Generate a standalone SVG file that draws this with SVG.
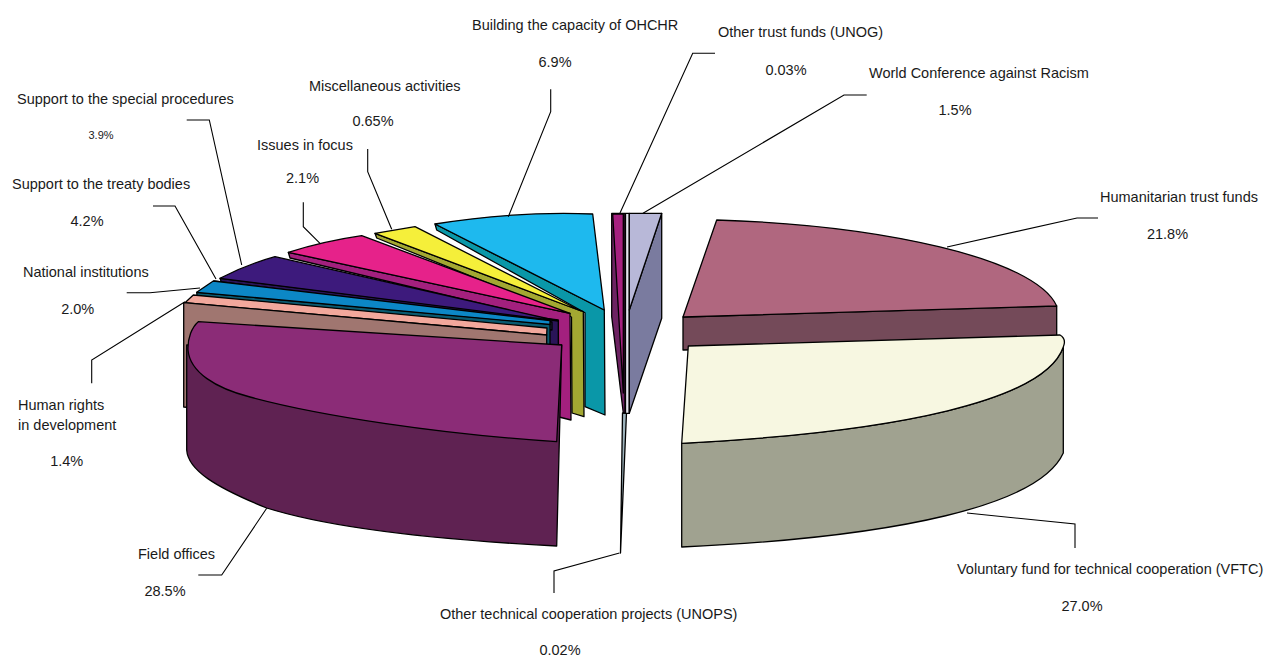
<svg xmlns="http://www.w3.org/2000/svg" width="1270" height="657" viewBox="0 0 1270 657">
<style>
.s{stroke:#000;stroke-width:1.3;stroke-linejoin:round}
.t{font-family:"Liberation Sans",Arial,sans-serif;font-size:14.5px;fill:#1a1a1a}
.m{text-anchor:middle}
.c{fill:none;stroke:#000;stroke-width:1.1}
</style>
<rect width="1270" height="657" fill="#fff"/>

<!-- Left group: slices drawn back to front -->
<g id="slice-building">
<path class="s" fill="#0A97A8" d="M435,224 L604.3,310 L605,415 L585,406.7 L585,312.7 L436.7,230 Z"/>
<path class="s" fill="#1EB9EE" d="M435,224 Q515,211 592.7,214 L604.3,310 Z"/>
</g>
<g id="slice-misc">
<path class="s" fill="#A3A832" d="M375,233.3 L583.3,311.7 L584,416.7 L572,413 L571.5,317 L376.7,238 Z"/>
<path class="s" fill="#F5EF3A" d="M375,233.3 L415,226.7 L581,311 Z"/>
</g>
<g id="slice-issues">
<path class="s" fill="#A3207E" d="M288.3,252.3 L570,313.3 L571,420 L559,417 L558.3,322 L290,258 Z"/>
<path class="s" fill="#E6228A" d="M288.3,252.3 Q325,241 361.7,235.7 L570,313.3 Z"/>
</g>
<g id="slice-special-procedures">
<path class="s" fill="#2A1458" d="M220,278.3 L558.3,320 L558.3,430 L548,430 L548,330 L222,284 Z"/>
<path class="s" fill="#3D1A7C" d="M220,278.3 Q245,265 275,256.7 L558.3,321 Z"/>
</g>
<g id="slice-treaty-bodies">
<path class="s" fill="#1E2A4A" d="M214,281 L552,322 L552,330 L205,288 Z"/>
</g>
<g id="slice-national-institutions">
<path class="s" fill="#0A5A70" d="M196.7,292.3 L550,324 L550,430 L546,430 L546,329 L197,296 Z"/>
<path class="s" fill="#0C87C6" d="M196.7,292.3 L213.3,281 L550,320.7 L550,324.5 Z"/>
</g>
<g id="slice-human-rights-development">
<path class="s" fill="#F2A89C" d="M185,302.7 L193.3,295 L547,328 L546.7,335 Z"/>
<path class="s" fill="#A07670" d="M183.7,302.7 L546.7,335 L546.7,440 L183.7,407 Z"/>
</g>
<g id="slice-field-offices">
<path class="s" fill="#5F2252" d="M186.7,345 L186.7,450 C188,470 215,487 266.7,508 C330,528 440,540 556.7,546 L561.7,345 Z"/>
<path class="s" fill="#8B2C77" d="M198.3,321.7 L561.7,345 L556.7,441.7 C440,434 320,416 250,397 C215,388 190,372 188,350 C187.5,338 192,327 198.3,321.7 Z"/>
</g>

<!-- Centre thin slices -->
<g id="slice-unops">
<path class="s" fill="#9DB3BC" stroke-width="0.9" d="M622.5,413 L626.5,413 L620.5,553 Z"/>
</g>
<g id="slice-unog">
<path class="s" fill="#6D2262" d="M611.7,213.3 L611.7,316.7 L623.3,413 L625,413 L625,213.3 Z"/>
<path class="s" fill="#A6207F" d="M612.7,214 L623.3,214 L623.3,393 Z"/>
</g>
<g id="slice-world-conference">
<rect class="s" x="625.5" y="213.3" width="3.8" height="200" fill="#E4E4EE"/>
<path class="s" fill="#7A7B9F" d="M661.7,213.3 L661.7,318.3 L629.3,413.3 L629.3,310 Z"/>
<path class="s" fill="#B8B8D8" d="M629.3,213.3 L661.7,213.3 L629.3,310 Z"/>
</g>

<!-- Right group -->
<g id="slice-humanitarian">
<path class="s" fill="#744A59" d="M683,317 L1056.7,306 L1056.7,340 L683,350 Z"/>
<path class="s" fill="#B0677F" d="M683,317 L716.7,220 C880,225 1035,258 1056.7,306 Z"/>
</g>
<g id="slice-vftc">
<path class="s" fill="#A0A290" d="M681.7,443.3 C900,432 1045,400 1063.3,347 L1063.3,453 C1040,505 900,537 681.7,547 Z"/>
<path class="s" fill="#F7F7E1" d="M688.3,346 L1060,335 C1065,338 1065,343 1063.3,347 C1045,400 900,432 681.7,443.3 Z"/>
</g>

<!-- Connectors -->
<g id="connectors">
<polyline class="c" points="186.7,120 209.3,120 241.7,265"/>
<polyline class="c" points="153,206 175,206 216,279"/>
<polyline class="c" points="126.7,292.7 150,292.7 200,288"/>
<polyline class="c" points="185,301.7 91.7,360 91.7,383.3"/>
<polyline class="c" points="266.7,508.3 221.7,575 198.3,575"/>
<polyline class="c" points="303.3,202.3 303.3,226.7 320,243.3"/>
<polyline class="c" points="367.7,149 367.7,171.7 391.7,229.3"/>
<polyline class="c" points="550.7,89.3 550.7,111.7 508.3,216.7"/>
<polyline class="c" points="620,213 692.7,53.3 715,53.3"/>
<polyline class="c" points="643,213.3 844,95 866.7,95"/>
<polyline class="c" points="947,247 1077,218 1098,218"/>
<polyline class="c" points="967,513 1075,524 1075,548"/>
<polyline class="c" points="619.5,553 554,571 554,593"/>
</g>

<!-- Labels -->
<g id="label-building"><text class="t" x="472" y="30">Building the capacity of OHCHR</text><text class="t m" x="555" y="67">6.9%</text></g>
<g id="label-unog"><text class="t" x="718" y="37">Other trust funds (UNOG)</text><text class="t m" x="786" y="75">0.03%</text></g>
<g id="label-world-conference"><text class="t" x="869" y="78">World Conference against Racism</text><text class="t m" x="955" y="115">1.5%</text></g>
<g id="label-humanitarian"><text class="t" x="1100" y="202">Humanitarian trust funds</text><text class="t m" x="1167.5" y="239">21.8%</text></g>
<g id="label-vftc"><text class="t" x="957" y="574">Voluntary fund for technical cooperation (VFTC)</text><text class="t m" x="1082" y="611">27.0%</text></g>
<g id="label-unops"><text class="t" x="440" y="619">Other technical cooperation projects (UNOPS)</text><text class="t m" x="560" y="655">0.02%</text></g>
<g id="label-misc"><text class="t" x="309" y="91">Miscellaneous activities</text><text class="t m" x="373" y="126">0.65%</text></g>
<g id="label-issues"><text class="t" x="257" y="150">Issues in focus</text><text class="t m" x="302.5" y="183">2.1%</text></g>
<g id="label-special-procedures"><text class="t" x="17" y="104">Support to the special procedures</text><text class="t m" x="101" y="139" style="font-size:11px">3.9%</text></g>
<g id="label-treaty-bodies"><text class="t" x="12" y="189">Support to the treaty bodies</text><text class="t m" x="87" y="226">4.2%</text></g>
<g id="label-national-institutions"><text class="t" x="23" y="277">National institutions</text><text class="t m" x="77.7" y="314">2.0%</text></g>
<g id="label-human-rights-development"><text class="t" x="18" y="410">Human rights</text><text class="t" x="18" y="430">in development</text><text class="t m" x="66.7" y="466">1.4%</text></g>
<g id="label-field-offices"><text class="t" x="138" y="559">Field offices</text><text class="t m" x="165" y="596">28.5%</text></g>
</svg>
